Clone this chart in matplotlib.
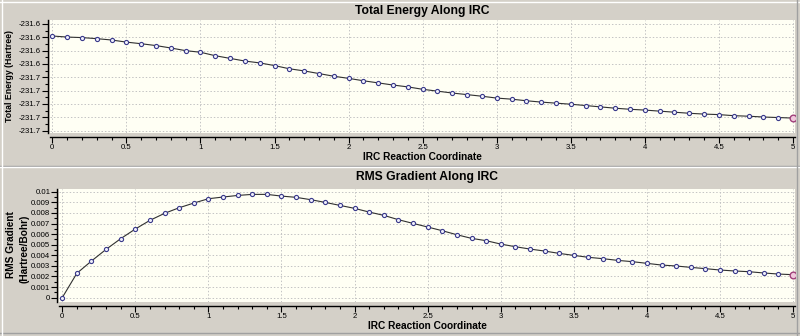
import numpy as np
import matplotlib
matplotlib.use("Agg")
import matplotlib.pyplot as plt
from matplotlib.lines import Line2D
from matplotlib.ticker import MultipleLocator, FixedLocator

plt.rcParams['font.family'] = ['Liberation Sans', 'DejaVu Sans']

# ---------------- data ----------------
irc_coord = [round(0.1 * i, 1) for i in range(51)]

total_energy = [
    -231.6345, -231.6349, -231.6351, -231.6355, -231.6360, -231.6368, -231.6374,
    -231.6381, -231.6390, -231.6400, -231.6406, -231.6419, -231.6429, -231.6439,
    -231.6446, -231.6456, -231.6468, -231.6476, -231.6486, -231.6496, -231.6504,
    -231.6513, -231.6521, -231.6529, -231.6536, -231.6545, -231.6552, -231.6559,
    -231.6565, -231.6571, -231.6578, -231.6582, -231.6588, -231.6593, -231.6597,
    -231.6601, -231.6606, -231.6611, -231.6616, -231.6620, -231.6623, -231.6627,
    -231.6631, -231.6635, -231.6638, -231.6640, -231.6644, -231.6646, -231.6649,
    -231.6651, -231.6653,
]

rms_gradient = [
    0.0, 0.00230, 0.00346, 0.00456, 0.00557, 0.00648, 0.00730, 0.00796, 0.00849,
    0.00893, 0.00934, 0.00950, 0.00965, 0.00975, 0.00975, 0.00959, 0.00947,
    0.00925, 0.00899, 0.00871, 0.00843, 0.00808, 0.00777, 0.00736, 0.00701,
    0.00667, 0.00632, 0.00594, 0.00560, 0.00538, 0.00506, 0.00481, 0.00459,
    0.00440, 0.00418, 0.00399, 0.00381, 0.00368, 0.00352, 0.00340, 0.00324,
    0.00308, 0.00299, 0.00286, 0.00274, 0.00261, 0.00252, 0.00245, 0.00233,
    0.00223, 0.00217,
]

energy_ticks = [-231.630, -231.635, -231.640, -231.645, -231.650,
                -231.655, -231.660, -231.665, -231.670]
energy_tick_labels = ['-231.6', '-231.6', '-231.6', '-231.6', '-231.7',
                      '-231.7', '-231.7', '-231.7', '-231.7']
grad_ticks = [0, 0.001, 0.002, 0.003, 0.004, 0.005, 0.006, 0.007, 0.008, 0.009, 0.01]
grad_tick_labels = ['0', '0.001', '0.002', '0.003', '0.004', '0.005',
                    '0.006', '0.007', '0.008', '0.009', '0.01']
x_ticks = [0, 0.5, 1, 1.5, 2, 2.5, 3, 3.5, 4, 4.5, 5]
x_tick_labels = ['0', '0.5', '1', '1.5', '2', '2.5', '3', '3.5', '4', '4.5', '5']

# ---------------- style ----------------
BG = '#d4d0c8'
FACE = '#fffff4'
GRID = '#c4c4c4'
LINE = '#303030'
MEDGE = '#3a3a8a'
MFACE = '#eeeefa'

W, H = 800, 336
fig = plt.figure(figsize=(W / 100, H / 100), dpi=100)
fig.patch.set_facecolor(BG)


def px_axes(l, t, r, b):
    return fig.add_axes([l / W, 1 - b / H, (r - l) / W, (b - t) / H])


def style(ax, yticks, ylabels, xlim, ylim):
    ax.set_facecolor(FACE)
    ax.set_xlim(*xlim)
    ax.set_ylim(*ylim)
    ax.xaxis.set_major_locator(FixedLocator(x_ticks))
    ax.set_xticklabels(x_tick_labels)
    ax.xaxis.set_minor_locator(MultipleLocator(0.1))
    ax.yaxis.set_major_locator(FixedLocator(yticks))
    ax.set_yticklabels(ylabels)
    ystep = yticks[1] - yticks[0]
    ax.yaxis.set_minor_locator(MultipleLocator(abs(ystep) / 2))
    for s in ['top', 'right']:
        ax.spines[s].set_visible(False)
    ax.spines['bottom'].set_position(('outward', 3))
    ax.spines['left'].set_position(('outward', 1.5))
    ax.spines['bottom'].set_linewidth(1.0)
    ax.spines['left'].set_linewidth(1.0)
    ax.tick_params(axis='both', which='major', direction='out', length=4,
                   width=0.8, labelsize=5.6, pad=1, colors='black')
    ax.tick_params(axis='both', which='minor', direction='out', length=2.3, width=0.8)
    ax.grid(True, which='major', color=GRID, linestyle=(0, (1.5, 2)), linewidth=0.7)
    ax.set_axisbelow(True)


# Top panel
ax1 = px_axes(50, 20, 795, 133)
style(ax1, energy_ticks, energy_tick_labels, (-0.0155, 5.0135),
      (-231.6709, -231.6285))
ax1.plot(irc_coord, total_energy, color=LINE, lw=0.8, marker='o', ms=3.0,
         mec=MEDGE, mfc=MFACE, mew=0.8, zorder=3)
ax1.plot(irc_coord[-1:], total_energy[-1:], 'o', ms=4.8, mec='#a0407a',
         mfc='#f0c8dc', mew=1.0, zorder=4)
ax1.set_xlabel('IRC Reaction Coordinate', fontsize=7.3, fontweight='bold', labelpad=0.5)
fig.text(9.5 / W, 1 - 76 / H, 'Total Energy (Hartree)', rotation=90, ha='center',
         va='center', fontsize=6.3, fontweight='bold')
ax1.set_title('Total Energy Along IRC', fontsize=8.7, fontweight='bold', pad=4.5)

# Bottom panel
ax2 = px_axes(59.3, 189.3, 795, 301.7)
style(ax2, grad_ticks, grad_tick_labels, (-0.02, 5.013), (-0.00038, 0.01023))
ax2.plot(irc_coord, rms_gradient, color=LINE, lw=0.8, marker='o', ms=3.0,
         mec=MEDGE, mfc=MFACE, mew=0.8, zorder=3)
ax2.plot(irc_coord[-1:], rms_gradient[-1:], 'o', ms=4.8, mec='#a0407a',
         mfc='#f0c8dc', mew=1.0, zorder=4)
ax2.set_xlabel('IRC Reaction Coordinate', fontsize=7.3, fontweight='bold', labelpad=0.5)
fig.text(11 / W, 1 - 245 / H, 'RMS Gradient', rotation=90, ha='center',
         va='center', fontsize=7.3, fontweight='bold')
fig.text(24 / W, 1 - 249 / H, '(Hartree/Bohr)', rotation=90, ha='center',
         va='center', fontsize=7.3, fontweight='bold')
ax2.set_title('RMS Gradient Along IRC', fontsize=8.7, fontweight='bold', pad=7)

# panel separator lines (window chrome)
def hline(y, color, lw=1.0):
    fig.add_artist(Line2D([0, 1], [1 - y / H, 1 - y / H], color=color, lw=lw,
                          transform=fig.transFigure))

hline(1.5, '#ffffff')
hline(166, '#a0a0a0')
hline(167, '#ffffff')
hline(333, '#a0a0a0')
fig.add_artist(Line2D([2 / W, 2 / W], [0, 1], color='#ffffff', lw=1.0,
                      transform=fig.transFigure))
fig.add_artist(Line2D([797 / W, 797 / W], [0, 1], color='#a0a0a0', lw=1.0,
                      transform=fig.transFigure))

fig.savefig('out.png', dpi=100, facecolor=BG)
